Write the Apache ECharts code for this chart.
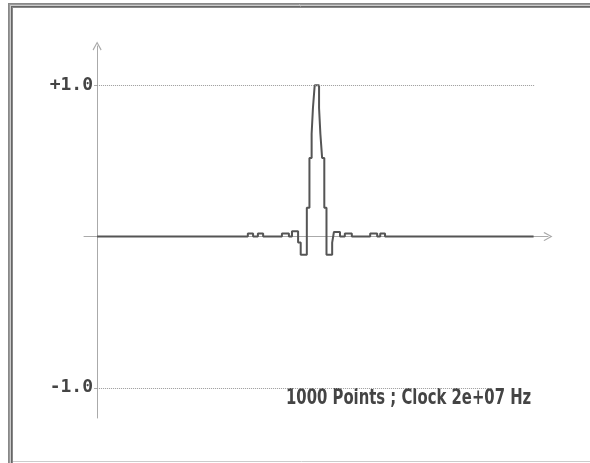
<!DOCTYPE html>
<html>
<head>
<meta charset="utf-8">
<script src="https://cdn.jsdelivr.net/npm/echarts@6/dist/echarts.min.js"></script>
<style>
  html, body { margin: 0; padding: 0; background: #fff; }
  #chart { width: 590px; height: 463px; }
</style>
</head>
<body>
<div id="chart"></div>
<script>
// sample index where each held level starts, and the level it holds
const stepStarts = [0, 345, 357, 368, 380, 423, 439, 446, 460, 466, 480, 486, 491, 494, 498,
  508, 511, 515, 520, 525, 538, 542, 556, 567, 583, 625, 641, 648, 659, 999]
const stepLevels = [0, 0.02, 0, 0.02, 0, 0.02, 0, 0.035, -0.04, -0.12, 0.19, 0.52, 0.68, 0.85, 1.0,
  0.85, 0.68, 0.52, 0.19, -0.12, -0.04, 0.03, 0, 0.02, 0, 0.02, 0, 0.02, 0, 0]
const yTickValues = [-1, 1]
const footerText = '1000 Points ; Clock 2e+07 Hz'

const chart = echarts.init(document.getElementById('chart'))

const signal = stepStarts.map((x, i) => [x, stepLevels[i]])

const chevron = 'path://M5,0 L10,9 L9,10 L5,2.5 L1,10 L0,9 Z'
const axisGray = '#aaa'

function frameLine(x1, y1, x2, y2, color) {
  return { type: 'line', silent: true, shape: { x1, y1, x2, y2 }, style: { stroke: color, lineWidth: 1 } }
}

// the y axis sits on x = 0, so its small ticks go there as well
const tickMarks = yTickValues.map(v => [{ coord: [-7, v] }, { coord: [0, v] }])

chart.setOption({
  animation: false,
  grid: { left: 84, right: 42, top: 46, bottom: 45 },
  xAxis: {
    type: 'value',
    min: -30,
    max: 1032,
    axisLine: {
      onZero: true,
      symbol: ['none', chevron],
      symbolSize: [14, 9],
      lineStyle: { color: axisGray, width: 1 }
    },
    axisTick: { show: false },
    axisLabel: { show: false },
    splitLine: { show: false }
  },
  yAxis: {
    type: 'value',
    min: -1.2,
    max: 1.26,
    axisLine: {
      show: true,
      onZero: true,
      symbol: ['none', chevron],
      symbolSize: [14, 9],
      lineStyle: { color: axisGray, width: 1 }
    },
    axisTick: { show: false },
    axisLabel: {
      customValues: yTickValues,
      margin: -9,
      color: '#444',
      fontFamily: 'DejaVu Sans Mono',
      fontWeight: 'bold',
      fontSize: 18,
      formatter: v => (v > 0 ? '+' : '') + v.toFixed(1)
    },
    splitLine: { show: false }
  },
  series: [
    {
      type: 'line',
      step: 'end',
      data: signal,
      symbol: 'none',
      lineStyle: { color: '#555', width: 2 },
      markLine: {
        silent: true,
        symbol: 'none',
        label: { show: false },
        lineStyle: { color: '#999', type: 'dotted', width: 1 },
        data: [
          [{ coord: [0, 1] }, { coord: [1002, 1] }],
          [{ coord: [0, -1] }, { coord: [906, -1] }]
        ]
      }
    },
    {
      type: 'line',
      data: [],
      markLine: {
        silent: true,
        symbol: 'none',
        label: { show: false },
        lineStyle: { color: axisGray, type: 'solid', width: 1 },
        data: tickMarks
      }
    }
  ],
  graphic: [
    frameLine(8.5, 3, 8.5, 463, '#888'),
    frameLine(9.5, 4, 9.5, 463, '#999'),
    frameLine(10.5, 5, 10.5, 463, '#ccc'),
    frameLine(11.5, 6, 11.5, 463, '#666'),
    frameLine(12.5, 7, 12.5, 463, '#888'),
    frameLine(8, 3.5, 590, 3.5, '#888'),
    frameLine(9, 4.5, 590, 4.5, '#999'),
    frameLine(10, 5.5, 590, 5.5, '#ccc'),
    frameLine(11, 6.5, 590, 6.5, '#666'),
    frameLine(12, 7.5, 590, 7.5, '#888'),
    frameLine(13, 461.5, 590, 461.5, '#ccc'),
    {
      type: 'text',
      silent: true,
      x: 286,
      y: 387,
      scaleX: 0.675,
      style: {
        text: footerText,
        fill: '#444',
        fontFamily: 'DejaVu Sans',
        fontWeight: 'bold',
        fontSize: 22,
        textVerticalAlign: 'top'
      }
    }
  ]
})
</script>
</body>
</html>
